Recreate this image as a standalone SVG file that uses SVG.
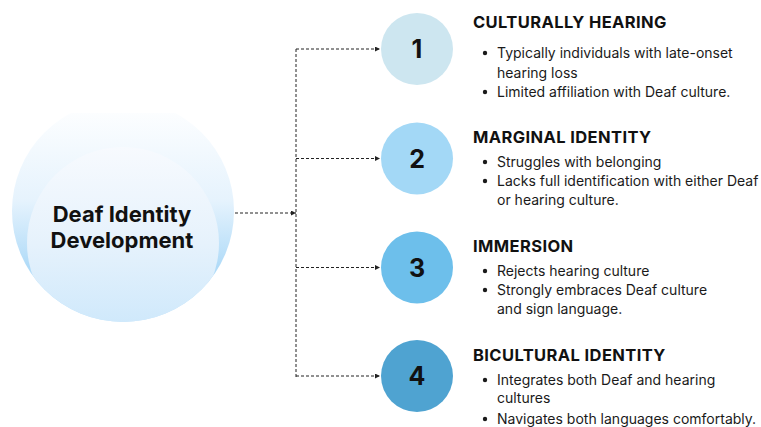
<svg xmlns="http://www.w3.org/2000/svg" width="761" height="427" viewBox="0 0 761 427">
<defs>
<style>
.t{font-family:Inter,"Liberation Sans",sans-serif;fill:#111;}
.title{font-size:16.5px;font-weight:700;letter-spacing:0.4px;}
.b{font-size:14px;font-weight:400;fill:#1a1a1a;}
.num{font-size:25px;font-weight:700;text-anchor:middle;}
.main{font-size:22px;font-weight:700;text-anchor:middle;}
.con{fill:none;stroke:#222;stroke-width:1;stroke-dasharray:3 2;}
.dot{fill:#1a1a1a;}
</style>
<marker id="ah" viewBox="0 0 6 6" refX="6" refY="3" markerWidth="5" markerHeight="5" markerUnits="userSpaceOnUse" orient="auto">
<path d="M0,0 L6,3 L0,6 Z" fill="#222"/>
</marker>
<linearGradient id="gOuter" x1="0" y1="0" x2="0" y2="1">
<stop offset="0" stop-color="#ffffff"/>
<stop offset="0.45" stop-color="#e6f3fd"/>
<stop offset="0.75" stop-color="#b0dbf8"/>
<stop offset="1" stop-color="#c8e6fb"/>
</linearGradient>
<linearGradient id="gInner" x1="0" y1="0" x2="0" y2="1">
<stop offset="0" stop-color="#f7fafe"/>
<stop offset="0.5" stop-color="#e6f2fc"/>
<stop offset="1" stop-color="#cbe7fb"/>
</linearGradient>
<clipPath id="cOuter"><rect x="0" y="113" width="300" height="220"/></clipPath>
<clipPath id="cInner"><circle cx="123" cy="211" r="111"/></clipPath>
</defs>
<rect width="761" height="427" fill="#ffffff"/>

<g id="center-node">
<g clip-path="url(#cOuter)">
<circle cx="123" cy="211" r="111" fill="url(#gOuter)"/>
<g clip-path="url(#cInner)">
<circle cx="123" cy="243" r="96" fill="url(#gInner)"/>
</g>
</g>
<text class="t main" x="122" y="222">Deaf Identity</text>
<text class="t main" x="122" y="248">Development</text>
</g>

<g id="connectors">
<path class="con" d="M235,213 H296" marker-end="url(#ah)"/>
<path class="con" d="M296,49 V377"/>
<path class="con" d="M296,49 H380" marker-end="url(#ah)"/>
<path class="con" d="M296,158.5 H380" marker-end="url(#ah)"/>
<path class="con" d="M296,267.5 H380" marker-end="url(#ah)"/>
<path class="con" d="M296,376 H380" marker-end="url(#ah)"/>
</g>

<g id="node-1">
<circle cx="417" cy="49" r="36" fill="#cde6f0"/>
<text class="t num" x="417" y="58">1</text>
<text class="t title" x="473" y="28.3">CULTURALLY HEARING</text>
<circle class="dot" cx="485" cy="53" r="2.2"/>
<text class="t b" x="497" y="58.3">Typically individuals with late-onset</text>
<text class="t b" x="497" y="77.7">hearing loss</text>
<circle class="dot" cx="485" cy="92" r="2.2"/>
<text class="t b" x="497" y="96.8">Limited affiliation with Deaf culture.</text>
</g>

<g id="node-2">
<circle cx="417" cy="158.5" r="36" fill="#a3d8f6"/>
<text class="t num" x="417" y="167.5">2</text>
<text class="t title" x="473" y="142.5">MARGINAL IDENTITY</text>
<circle class="dot" cx="485" cy="162" r="2.2"/>
<text class="t b" x="497" y="166.7">Struggles with belonging</text>
<circle class="dot" cx="485" cy="181" r="2.2"/>
<text class="t b" x="497" y="185.5">Lacks full identification with either Deaf</text>
<text class="t b" x="497" y="204.5">or hearing culture.</text>
</g>

<g id="node-3">
<circle cx="417" cy="267.5" r="36" fill="#6dbfeb"/>
<text class="t num" x="417" y="276.5">3</text>
<text class="t title" x="473" y="251.5">IMMERSION</text>
<circle class="dot" cx="485" cy="271" r="2.2"/>
<text class="t b" x="497" y="275.7">Rejects hearing culture</text>
<circle class="dot" cx="485" cy="290" r="2.2"/>
<text class="t b" x="497" y="295">Strongly embraces Deaf culture</text>
<text class="t b" x="497" y="313.5">and sign language.</text>
</g>

<g id="node-4">
<circle cx="417" cy="376" r="36" fill="#4fa3d1"/>
<text class="t num" x="417" y="385">4</text>
<text class="t title" x="473" y="361">BICULTURAL IDENTITY</text>
<circle class="dot" cx="485" cy="380" r="2.2"/>
<text class="t b" x="497" y="384.5">Integrates both Deaf and hearing</text>
<text class="t b" x="497" y="403">cultures</text>
<circle class="dot" cx="485" cy="419" r="2.2"/>
<text class="t b" x="497" y="423.5">Navigates both languages comfortably.</text>
</g>
</svg>
